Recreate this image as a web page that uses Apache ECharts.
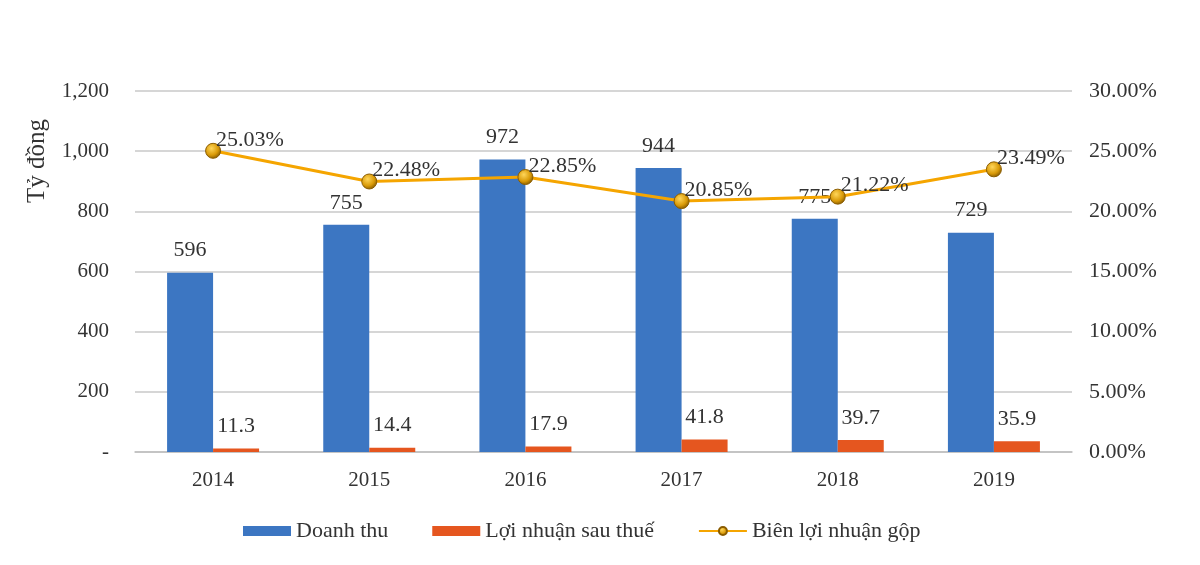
<!DOCTYPE html>
<html>
<head>
<meta charset="utf-8">
<script src="https://cdn.jsdelivr.net/npm/echarts@6/dist/echarts.min.js"></script>
<style>
  html, body { margin: 0; padding: 0; background: #fff; }
  #chart { width: 1200px; height: 565px; }
</style>
</head>
<body>
<div id="chart"></div>
<script>
// dữ liệu
var years = ['2014', '2015', '2016', '2017', '2018', '2019'];
var doanhThu = [596, 755, 972, 944, 775, 729];
var loiNhuan = [11.3, 14.4, 17.9, 41.8, 39.7, 35.9];
var bienLoiNhuan = [25.03, 22.48, 22.85, 20.85, 21.22, 23.49];

var FONT = '"Liberation Serif", "DejaVu Serif", serif';
var TXT = '#333333';

var myChart = echarts.init(document.getElementById('chart'));

// quả cầu vàng cho điểm đường
var ball = {
    type: 'radial', x: 0.4, y: 0.35, r: 0.7,
    colorStops: [
        { offset: 0, color: '#FFD65A' },
        { offset: 0.6, color: '#D99A08' },
        { offset: 1, color: '#7A5200' }
    ]
};

myChart.setOption({
    animation: false,
    textStyle: { fontFamily: FONT },
    grid: { left: 135, right: 128, top: 91, bottom: 113 },
    legend: {
        bottom: 18,
        left: 238,
        itemWidth: 48,
        itemHeight: 10,
        itemGap: 44,
        textStyle: { fontFamily: FONT, fontSize: 22, color: TXT },
        data: [
            { name: 'Doanh thu', icon: 'rect' },
            { name: 'Lợi nhuận sau thuế', icon: 'rect' },
            { name: 'Biên lợi nhuận gộp' }
        ]
    },
    xAxis: {
        type: 'category',
        data: years,
        axisTick: { show: false },
        axisLine: { lineStyle: { color: '#BFBFBF', width: 1.5 } },
        axisLabel: { fontFamily: FONT, fontSize: 21, color: TXT, margin: 18 }
    },
    yAxis: [
        {
            type: 'value',
            min: 0, max: 1200, interval: 200,
            axisLine: { show: false },
            axisTick: { show: false },
            splitLine: { lineStyle: { color: '#C8C8C8', width: 1.5 } },
            axisLabel: {
                fontFamily: FONT, fontSize: 21, color: TXT, margin: 26,
                formatter: function (v) {
                    return v === 0 ? '-' : v.toLocaleString('en-US');
                }
            }
        },
        {
            type: 'value',
            min: 0, max: 30, interval: 5,
            axisLine: { show: false },
            axisTick: { show: false },
            splitLine: { show: false },
            axisLabel: {
                fontFamily: FONT, fontSize: 22, color: TXT, margin: 17,
                formatter: function (v) { return v.toFixed(2) + '%'; }
            }
        }
    ],
    graphic: [{
        type: 'text',
        left: 25,
        top: 119,
        rotation: Math.PI / 2,
        style: { text: 'Tỷ đồng', font: '25px ' + FONT, fill: TXT }
    }],
    series: [
        {
            name: 'Doanh thu',
            type: 'bar',
            data: doanhThu,
            barWidth: 46,
            barGap: '0%',
            itemStyle: { color: '#3C76C2' },
            label: {
                show: true, position: 'top', distance: 11,
                fontFamily: FONT, fontSize: 22, color: TXT
            }
        },
        {
            name: 'Lợi nhuận sau thuế',
            type: 'bar',
            data: loiNhuan,
            barWidth: 46,
            itemStyle: { color: '#E5561F' },
            label: {
                show: true, position: 'top', distance: 11,
                fontFamily: FONT, fontSize: 22, color: TXT
            }
        },
        {
            name: 'Biên lợi nhuận gộp',
            type: 'line',
            yAxisIndex: 1,
            data: bienLoiNhuan,
            symbol: 'circle',
            symbolSize: 15,
            lineStyle: { color: '#F5A500', width: 3 },
            itemStyle: { color: ball, borderColor: '#8A5C00', borderWidth: 1 },
            label: {
                show: true, position: 'right', distance: 0, offset: [-5, -11],
                fontFamily: FONT, fontSize: 22, color: TXT,
                formatter: function (p) { return p.value.toFixed(2) + '%'; }
            },
            z: 5
        }
    ]
});
</script>
</body>
</html>
